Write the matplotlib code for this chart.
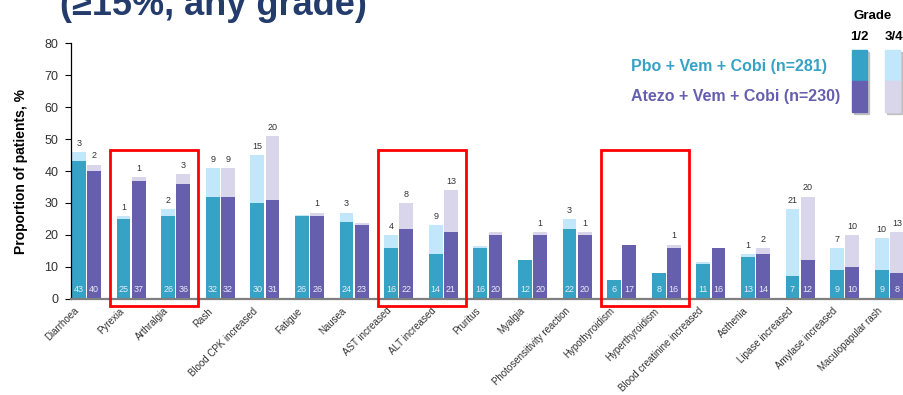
import numpy as np
import matplotlib.pyplot as plt
from matplotlib.patches import Rectangle

plt.rcParams['font.family'] = ['Liberation Sans', 'DejaVu Sans']

events = ["Diarrhoea", "Pyrexia", "Arthralgia", "Rash", "Blood CPK increased",
          "Fatigue", "Nausea", "AST increased", "ALT increased", "Pruritus",
          "Myalgia", "Photosensitivity reaction", "Hypothyroidism",
          "Hyperthyroidism", "Blood creatinine increased", "Asthenia",
          "Lipase increased", "Amylase increased", "Maculopapular rash"]

# grade 1/2 and grade 3/4 (%) per arm
pbo_g12 = [43, 25, 26, 32, 30, 26, 24, 16, 14, 16, 12, 22, 6, 8, 11, 13, 7, 9, 9]
pbo_g34 = [3, 1, 2, 9, 15, 0.3, 3, 4, 9, 0.6, 0.3, 3, 0, 0, 0.5, 1, 21, 7, 10]
atz_g12 = [40, 37, 36, 32, 31, 26, 23, 22, 21, 20, 20, 20, 17, 16, 16, 14, 12, 10, 8]
atz_g34 = [2, 1, 3, 9, 20, 1, 0.8, 8, 13, 0.9, 1, 1, 0, 1, 0, 2, 20, 10, 13]

# groups of events highlighted with a red frame (first, last index)
boxed = [(1, 2), (7, 8), (12, 13)]

c_pbo = "#36A2C6"
c_pbo_lt = "#C2E6FA"
c_atz = "#655FAE"
c_atz_lt = "#D9D6EC"

fig = plt.figure(figsize=(9.04, 3.95), dpi=100)
ax = fig.add_axes([0.0785, 0.2435, 0.9215, 0.647])

x = np.arange(len(events))
w = 0.31
off = 0.17

ax.bar(x - off, pbo_g12, w, color=c_pbo, zorder=2)
ax.bar(x - off, pbo_g34, w, bottom=pbo_g12, color=c_pbo_lt, zorder=2)
ax.bar(x + off, atz_g12, w, color=c_atz, zorder=2)
ax.bar(x + off, atz_g34, w, bottom=atz_g12, color=c_atz_lt, zorder=2)

for i in range(len(events)):
    for xs, lo, hi in ((x[i] - off, pbo_g12[i], pbo_g34[i]),
                       (x[i] + off, atz_g12[i], atz_g34[i])):
        ax.text(xs, 2.9, f"{lo:g}", ha="center", va="center", fontsize=6.5,
                color="#ECECF4", zorder=3)
        if hi >= 1:
            ax.annotate(f"{hi:g}", (xs, lo + hi), xytext=(0, 3),
                        textcoords="offset points", ha="center", va="bottom",
                        fontsize=6.5, color="#333333")

for a, b in boxed:
    ax.add_patch(Rectangle((a - 0.47, -2.2), b - a + 0.97, 48.9, fill=False,
                           edgecolor="#FF0000", linewidth=2, clip_on=False,
                           zorder=4))

ax.set_xlim(-0.35, 18.33)
ax.set_ylim(0, 80)
ax.set_yticks(range(0, 81, 10))
ax.set_xticks(x - 0.28)
ax.set_xticklabels(events, rotation=45, ha="right", rotation_mode="anchor",
                   fontsize=7, color="#333333")
ax.tick_params(axis="x", length=0, pad=5)
ax.tick_params(axis="y", labelsize=9, labelcolor="#333333", length=4,
               width=0.8, pad=5)
for s in ("top", "right"):
    ax.spines[s].set_visible(False)
ax.spines["bottom"].set_color("#7F7F7F")
ax.spines["bottom"].set_linewidth(1.6)
ax.spines["bottom"].set_zorder(3)
ax.spines["left"].set_linewidth(0.9)
ax.set_ylabel("Proportion of patients, %", fontsize=10, fontweight="bold",
              labelpad=12)

# title, partly cut by the top edge
fig.text(0.066, 1 - 15 / 395, "(\u226515%, any grade)", fontsize=26,
         fontweight="bold", color="#233C6C", va="baseline", ha="left")

# legend
fig.text(631 / 904, 1 - 67 / 395, "Pbo + Vem + Cobi (n=281)", fontsize=11.5,
         fontweight="bold", color=c_pbo, va="center")
fig.text(631 / 904, 1 - 97 / 395, "Atezo + Vem + Cobi (n=230)", fontsize=11.5,
         fontweight="bold", color=c_atz, va="center")
fig.text(873 / 904, 1 - 16 / 395, "Grade", fontsize=9.5, fontweight="bold",
         ha="center", va="center")
fig.text(859 / 904, 1 - 37 / 395, "1/2", fontsize=9.5, fontweight="bold",
         ha="center", va="center")
fig.text(894 / 904, 1 - 37 / 395, "3/4", fontsize=9.5, fontweight="bold",
         ha="center", va="center")

for x0, top, bot in ((852, c_pbo, c_atz), (885, c_pbo_lt, c_atz_lt)):
    fw, fh = 15 / 904, 31 / 395
    fig.patches.append(Rectangle((x0 / 904 + 2 / 904, 1 - 114 / 395), fw,
                                 2 * fh, transform=fig.transFigure,
                                 color="#9A9A9A", alpha=0.5, zorder=1))
    fig.patches.append(Rectangle((x0 / 904, 1 - 81 / 395), fw, fh,
                                 transform=fig.transFigure, color=top,
                                 zorder=2))
    fig.patches.append(Rectangle((x0 / 904, 1 - 112 / 395), fw, fh,
                                 transform=fig.transFigure, color=bot,
                                 zorder=2))

fig.savefig("out.png", dpi=100)
